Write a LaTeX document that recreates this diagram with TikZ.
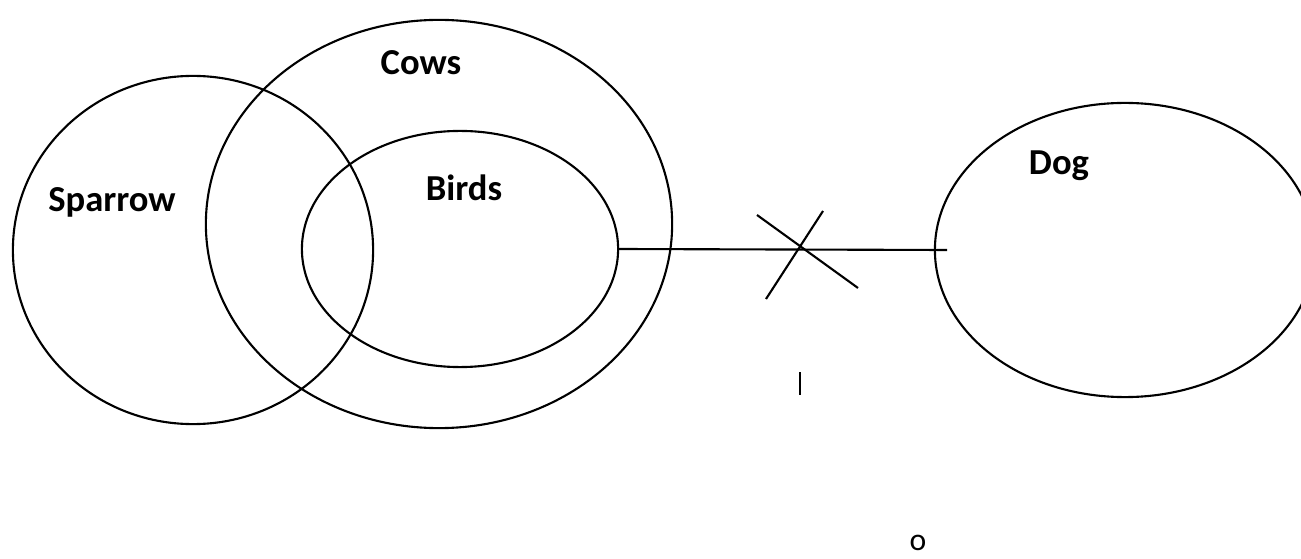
\documentclass[tikz,border=0pt]{standalone}
\usepackage{fontspec}
\setmainfont{Carlito}
\usetikzlibrary{shapes.geometric}

\begin{document}
\begin{tikzpicture}[x=0.01cm, y=-0.01cm, line width=0.6pt,
  set/.style={draw, ellipse, inner sep=0pt},
  setname/.style={font=\bfseries\fontsize{10.4}{12}\selectfont, inner sep=0pt}]
\clip (0,0) rectangle (1301,558);
\node[set, minimum width=3.6cm, minimum height=3.48cm] (sparrow) at (193,250) {};
\node[set, minimum width=4.66cm, minimum height=4.08cm] (cows) at (439,224) {};
\node[set, minimum width=3.16cm, minimum height=2.36cm] (birds) at (460,249) {};
\node[set, minimum width=3.8cm, minimum height=2.94cm] (dog) at (1125,250) {};
\node[setname] (sparrowlbl) at (112,202) {Sparrow};
\node[setname] (cowslbl) at (421,63) {Cows};
\node[setname] (birdslbl) at (464,188) {Birds};
\node[setname] (doglbl) at (1059,166) {Dog};
\coordinate (linkend) at (947,250);
\draw (birds.east) -- (linkend);
\coordinate (crossa) at (757,215);
\coordinate (crossb) at (858,288);
\coordinate (crossc) at (766,299);
\coordinate (crossd) at (823,211);
\draw (crossa) -- (crossb);
\draw (crossc) -- (crossd);
\coordinate (bartop) at (800,372);
\coordinate (barbot) at (800,395);
\draw (bartop) -- (barbot);
\node[font=\fontsize{9}{11}\selectfont, inner sep=0pt] (dot) at (918,543) {o};
\end{tikzpicture}
\end{document}
